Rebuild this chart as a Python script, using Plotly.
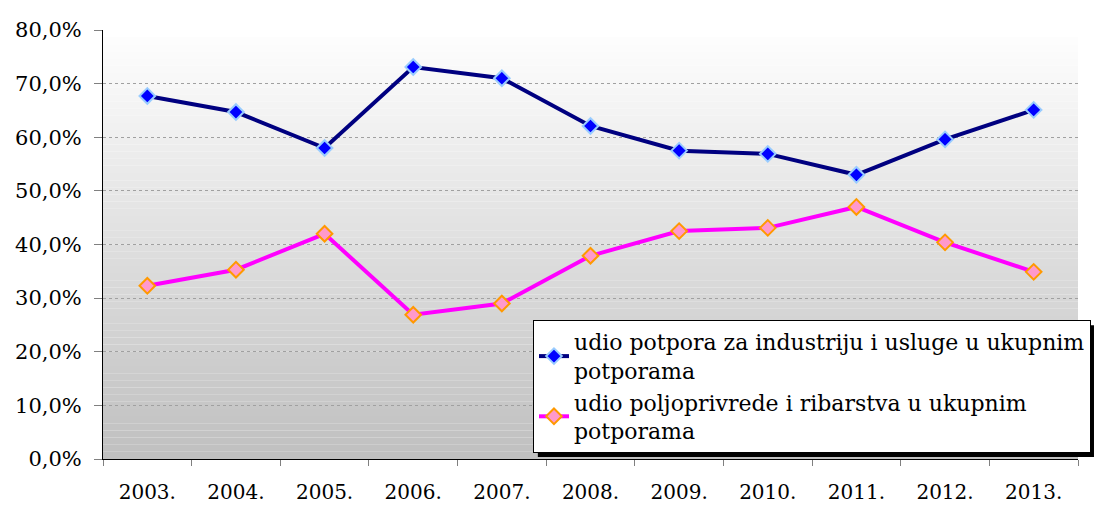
import plotly.graph_objects as go

# Data
godine = ['2003.', '2004.', '2005.', '2006.', '2007.', '2008.',
          '2009.', '2010.', '2011.', '2012.', '2013.']
industrija = [67.7, 64.7, 58.0, 73.1, 71.0, 62.1, 57.5, 56.9, 53.0, 59.6, 65.1]
poljoprivreda = [32.3, 35.3, 42.0, 26.9, 29.0, 37.9, 42.5, 43.1, 47.0, 40.4, 34.9]
y_ticks = [0, 10, 20, 30, 40, 50, 60, 70, 80]
y_labels = ['0,0%', '10,0%', '20,0%', '30,0%', '40,0%', '50,0%',
            '60,0%', '70,0%', '80,0%']

# only serif face available in the sandbox
FAM = 'DejaVu Serif'
font = dict(family=FAM, size=20, color='black')
yfont = dict(family=FAM, size=21, color='black')
legfont = dict(family=FAM, size=22, color='black')

fig = go.Figure()

fig.add_trace(go.Scatter(
    x=godine, y=industrija, mode='lines+markers',
    name='udio potpora za industriju i usluge u ukupnim<br>potporama',
    line=dict(color='#000080', width=4),
    marker=dict(symbol='diamond', size=12, color='#0000ff',
                line=dict(color='#99ccff', width=2))))

fig.add_trace(go.Scatter(
    x=godine, y=poljoprivreda, mode='lines+markers',
    name='udio poljoprivrede i ribarstva u ukupnim<br>potporama',
    line=dict(color='#ff00ff', width=4),
    marker=dict(symbol='diamond', size=12, color='#ff99cc',
                line=dict(color='#ff9900', width=2))))

# gradient background of plot area (white -> gray), drawn as thin bands
shapes = []
n = 60
for i in range(n):
    t = i / (n - 1)
    c = int(255 - (255 - 192) * t)
    shapes.append(dict(type='rect', xref='x domain', yref='y domain',
                       x0=0, x1=1, y0=1 - (i + 1) / n, y1=1 - i / n,
                       fillcolor='rgb(%d,%d,%d)' % (c, c, c),
                       line=dict(width=0), layer='below'))

# legend shadow
shapes.append(dict(type='rect', xref='paper', yref='paper',
                   x0=0.446, x1=1.0164, y0=0.0047, y1=0.312,
                   fillcolor='black', line=dict(width=0), layer='above'))

# page body has an 8px margin, so the figure is shrunk by 8px
fig.update_layout(
    width=1096, height=515,
    margin=dict(l=95, r=26, t=22, b=64, autoexpand=False),
    paper_bgcolor='white', plot_bgcolor='rgba(0,0,0,0)',
    font=font,
    shapes=shapes,
    showlegend=True,
    legend=dict(x=0.441, y=0.324, xanchor='left', yanchor='top',
                bgcolor='white', bordercolor='black', borderwidth=1,
                font=legfont, tracegroupgap=0),
    xaxis=dict(range=[-0.5, 10.5], showgrid=False, showline=True,
               linecolor='black', linewidth=1, automargin=False,
               ticks='outside', tickson='boundaries', ticklen=6,
               tickcolor='#808080', tickfont=font, ticklabelstandoff=15),
    yaxis=dict(range=[0, 80], tickvals=y_ticks, ticktext=y_labels,
               showgrid=True, gridcolor='#a0a0a0', griddash='dot', gridwidth=1,
               showline=True, linecolor='black', linewidth=1, automargin=False,
               ticks='outside', ticklen=8, tickcolor='#808080',
               zeroline=False, tickfont=yfont, ticklabelstandoff=8),
)

fig.write_html('out.html')
